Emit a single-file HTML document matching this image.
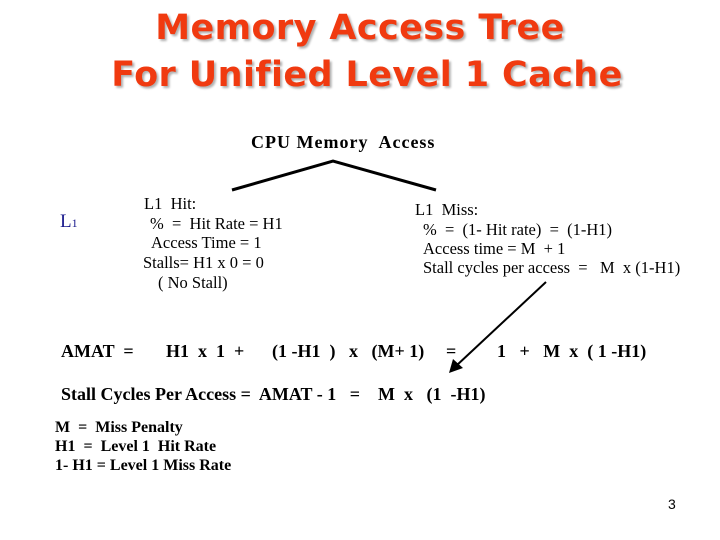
<!DOCTYPE html>
<html><head><meta charset="utf-8"><style>
body{margin:0;width:720px;height:540px;background:#fff;position:relative;overflow:hidden;font-family:"Liberation Serif",serif;color:#000}
.t{position:absolute;white-space:pre;line-height:1}
.title{position:absolute;left:0;width:720px;text-align:center;font-family:"DejaVu Sans",sans-serif;font-weight:bold;font-size:35px;color:#f03a10;text-shadow:2px 2px 2px #b0b0b0;white-space:pre;letter-spacing:0.4px}
.s{font-size:16.5px}
.b{font-size:18px;font-weight:bold}
.l{font-weight:bold;font-size:16px}
</style></head><body>
<div class="title" style="top:8px">Memory Access Tree</div>
<div class="title" style="top:55px;left:7px">For Unified Level 1 Cache</div>

<div class="t" style="left:251px;top:133px;font-size:18px;font-weight:bold;letter-spacing:1px">CPU Memory  Access</div>
<svg style="position:absolute;left:0;top:0" width="720" height="540">
<polyline points="232,190 333,161 436,190" fill="none" stroke="#000" stroke-width="3"/>
<line x1="546" y1="282" x2="456" y2="366" stroke="#000" stroke-width="2"/>
<polygon points="449,373 453,359 463,368" fill="#000"/>
</svg>
<div class="t" style="left:60px;top:212px;font-size:19px;color:#1a1a8c">L<span style="font-size:12px">1</span></div>

<div class="t s" style="left:144px;top:196px">L1  Hit:</div>
<div class="t s" style="left:150px;top:216px">%  =  Hit Rate = H1</div>
<div class="t s" style="left:151px;top:235px">Access Time = 1</div>
<div class="t s" style="left:143px;top:255px">Stalls= H1 x 0 = 0</div>
<div class="t s" style="left:158px;top:275px">( No Stall)</div>

<div class="t s" style="left:415px;top:202px">L1  Miss:</div>
<div class="t s" style="left:423px;top:222px">%  =  (1- Hit rate)  =  (1-H1)</div>
<div class="t s" style="left:423px;top:241px">Access time = M  + 1</div>
<div class="t s" style="left:423px;top:260px">Stall cycles per access  =   M  x (1-H1)</div>

<div class="t b" style="left:61px;top:342px">AMAT  =</div>
<div class="t b" style="left:166px;top:342px">H1  x  1  +</div>
<div class="t b" style="left:272px;top:342px">(1 -H1  )   x   (M+ 1)</div>
<div class="t b" style="left:446px;top:342px">=</div>
<div class="t b" style="left:497px;top:342px">1   +   M  x  ( 1 -H1)</div>

<div class="t b" style="left:61px;top:385px">Stall Cycles Per Access =  AMAT - 1   =    M  x   (1  -H1)</div>

<div class="t l" style="left:55px;top:420px">M  =  Miss Penalty</div>
<div class="t l" style="left:55px;top:439px">H1  =  Level 1  Hit Rate</div>
<div class="t l" style="left:55px;top:458px">1- H1 = Level 1 Miss Rate</div>

<div class="t" style="left:668px;top:497px;font-family:'Liberation Sans',sans-serif;font-size:14px">3</div>
</body></html>
